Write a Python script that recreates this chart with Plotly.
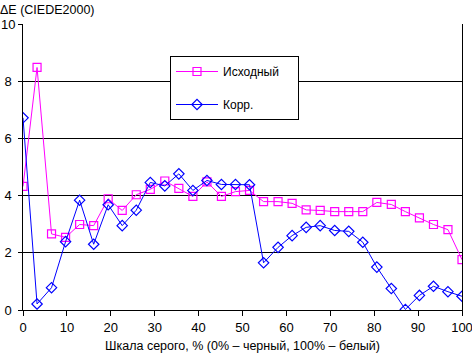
import plotly.graph_objects as go

gray_pct = [0, 3.2, 6.5, 9.7, 12.9, 16.1, 19.4, 22.6, 25.8, 29.0, 32.3, 35.5,
            38.7, 41.9, 45.2, 48.4, 51.6, 54.8, 58.1, 61.3, 64.5, 67.7, 71.0,
            74.2, 77.4, 80.6, 83.9, 87.1, 90.3, 93.5, 96.8, 100]
de_original = [4.32, 8.48, 2.66, 2.54, 2.99, 2.95, 3.89, 3.48, 4.03, 4.22, 4.51,
               4.25, 3.97, 4.48, 3.97, 4.14, 4.18, 3.79, 3.79, 3.73, 3.50, 3.48,
               3.44, 3.44, 3.44, 3.76, 3.69, 3.44, 3.22, 2.99, 2.81, 1.76]
de_corrected = [6.72, 0.21, 0.78, 2.39, 3.84, 2.30, 3.68, 2.95, 3.49, 4.46, 4.34,
                4.76, 4.18, 4.53, 4.39, 4.39, 4.38, 1.65, 2.19, 2.60, 2.89, 2.95,
                2.78, 2.75, 2.37, 1.50, 0.75, 0.02, 0.51, 0.83, 0.64, 0.48]
y_ticks = [0, 2, 4, 6, 8, 10]
y_ticktext = ["0\u2008", "2\u2008", "4\u2008", "6\u2008", "8\u2008", "10"]
x_ticks = [0, 10, 20, 30, 40, 50, 60, 70, 80, 90, 100]

FONT = "Liberation Sans, Arial, sans-serif"
PAD = "\u00a0" * 4

fig = go.Figure()
fig.add_trace(go.Scatter(
    x=gray_pct, y=de_original, name="Исходный" + PAD, mode="lines+markers",
    legendgroup="a",
    line=dict(color="#FF00FF", width=1),
    marker=dict(symbol="square-open", size=8, color="#FF00FF", line=dict(width=1.2)),
))
fig.add_trace(go.Scatter(
    x=gray_pct, y=de_corrected, name="Корр.", mode="lines+markers",
    legendgroup="b",
    line=dict(color="#0000FF", width=1),
    marker=dict(symbol="diamond-open", size=8, color="#0000FF", line=dict(width=1.2)),
))

fig.update_layout(
    width=472, height=353,
    margin=dict(l=23, r=10, t=24, b=43),
    paper_bgcolor="white", plot_bgcolor="white",
    font=dict(family=FONT, size=13, color="black"),
    title=dict(text="ΔE (CIEDE2000)", x=0, xref="paper", xanchor="left",
               y=1 - 10 / 353, yref="container", yanchor="middle",
               font=dict(size=12.5), pad=dict(l=-23)),
    showlegend=True,
    legend=dict(x=(170 - 23) / 439, y=(310 - 56) / 286, xanchor="left", yanchor="top",
                bgcolor="white", bordercolor="black", borderwidth=1,
                font=dict(size=12), tracegroupgap=14,
                itemwidth=42),
    xaxis=dict(range=[0, 100], tickvals=x_ticks, showgrid=False, zeroline=False,
               showline=True, linecolor="black", linewidth=1, automargin=False,
               ticks="outside", ticklen=5, tickcolor="black",
               ticklabeloverflow="allow",
               title=dict(text="Шкала серого, % (0% – черный, 100% – белый)",
                          font=dict(size=12.5), standoff=9)),
    yaxis=dict(range=[0, 10], tickvals=y_ticks, ticktext=y_ticktext,
               showgrid=True, gridcolor="black", gridwidth=1, zeroline=False,
               showline=True, mirror=True, linecolor="black", linewidth=1,
               automargin=False,
               ticks="outside", ticklen=4, tickcolor="black"),
)

fig.write_html("out.html")
